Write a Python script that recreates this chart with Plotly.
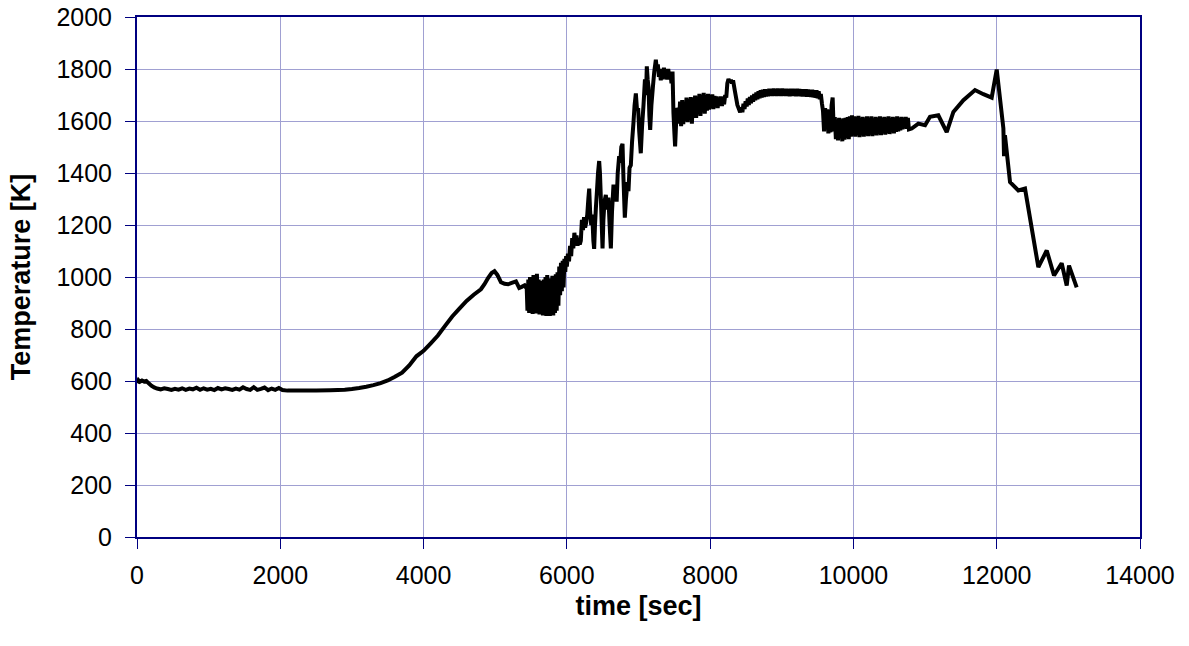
import plotly.graph_objects as go

# ---- data (time [sec], temperature [K]) ----
time_start = [0, 20, 40, 70, 100, 130, 160, 200, 240, 280, 330, 380, 430, 480, 530, 580, 630, 680,
              730, 780, 830, 880, 930, 980, 1030, 1080, 1130, 1180, 1230, 1280, 1330, 1380, 1430,
              1480, 1530, 1580, 1630, 1680, 1730, 1780, 1830, 1880, 1930, 1980, 2030, 2100, 2300,
              2500, 2700, 2900, 3000, 3100, 3200, 3300, 3400, 3500, 3600]
temp_start = [592, 603, 597, 602, 598, 600, 592, 582, 575, 571, 568, 572, 569, 566, 570, 567, 572, 566,
              571, 568, 574, 566, 572, 567, 570, 565, 573, 568, 572, 569, 566, 571, 567, 576,
              569, 566, 576, 566, 570, 575, 565, 571, 566, 573, 565, 563, 563, 563, 564, 566,
              569, 573, 578, 584, 592, 602, 616]

time_rise = [3700, 3800, 3900, 4000, 4100, 4200, 4300, 4400, 4500, 4600, 4700, 4800, 4850, 4900,
             4950, 4990, 5030, 5080, 5130, 5180, 5230, 5290, 5335, 5370, 5410, 5440]
temp_rise = [632, 660, 695, 716, 745, 775, 812, 848, 878, 908, 932, 953, 972, 996,
             1015, 1022, 1008, 980, 974, 972, 977, 983, 958, 962, 968, 955]

time_noise1 = [5450, 5462, 5474, 5486, 5498, 5510, 5522, 5534, 5546, 5558, 5570, 5582, 5594, 5606,
               5618, 5630, 5642, 5654, 5666, 5678, 5690, 5702, 5714, 5726, 5738, 5750, 5762, 5774,
               5786, 5798, 5810, 5822, 5834, 5846, 5858, 5870, 5882, 5894, 5906, 5918, 5930, 5942,
               5954, 5966, 5978, 5990]
temp_noise1 = [870, 990, 862, 1000, 868, 985, 858, 1008, 870, 995, 860, 1012, 872, 990,
               856, 985, 866, 975, 852, 990, 860, 1000, 850, 1008, 858, 985, 850, 995,
               856, 1005, 852, 990, 862, 1010, 870, 1018, 890, 1040, 930, 1055, 945, 1062,
               960, 1070, 1020, 1080]

time_climb = [6000, 6015, 6030, 6045, 6060, 6075, 6090, 6105, 6120, 6135, 6150, 6165, 6180, 6195,
              6210, 6225, 6240, 6255, 6270, 6285, 6300, 6312, 6325, 6340, 6355, 6370, 6381, 6393,
              6405, 6420, 6435, 6451, 6462, 6475, 6487, 6498, 6510, 6525, 6544, 6560, 6580, 6597,
              6614, 6630, 6651, 6665, 6680, 6695, 6710, 6730, 6745, 6760, 6777, 6790, 6809, 6825,
              6846, 6860, 6875, 6893, 6910, 6930, 6945, 6963, 6980, 6995, 7010, 7032, 7050, 7070,
              7090, 7105, 7116, 7128, 7140, 7152, 7163, 7180, 7200, 7220, 7242, 7255, 7270, 7285,
              7300, 7311, 7325, 7340, 7355, 7370, 7385, 7400, 7415, 7430, 7445, 7460, 7475, 7488,
              7500, 7511, 7523, 7535]
temp_climb = [1040, 1090, 1060, 1120, 1080, 1150, 1110, 1170, 1130, 1160, 1120, 1150, 1125, 1140,
              1220, 1180, 1230, 1190, 1210, 1240, 1300, 1340, 1250, 1200, 1240, 1140, 1108, 1200,
              1265, 1330, 1400, 1446, 1400, 1300, 1200, 1110, 1220, 1290, 1316, 1260, 1305, 1200,
              1110, 1250, 1355, 1300, 1330, 1290, 1400, 1465, 1440, 1500, 1512, 1380, 1228, 1300,
              1365, 1330, 1420, 1430, 1520, 1595, 1660, 1706, 1640, 1650, 1560, 1476, 1580, 1662,
              1760, 1700, 1810, 1760, 1730, 1620, 1566, 1660, 1728, 1790, 1836, 1800, 1818, 1770,
              1790, 1756, 1800, 1760, 1805, 1770, 1795, 1760, 1800, 1768, 1790, 1745, 1790, 1630,
              1560, 1502, 1580, 1650]

time_band1 = [7550, 7565, 7580, 7595, 7610, 7625, 7640, 7655, 7670, 7685, 7700, 7715, 7730, 7745,
              7760, 7775, 7790, 7805, 7820, 7835, 7850, 7865, 7880, 7895, 7910, 7925, 7940, 7955,
              7970, 7985, 8000, 8015, 8030, 8045, 8060, 8075, 8090, 8105, 8120, 8135, 8150, 8165,
              8180, 8195, 8210, 8225, 8240, 8256, 8275, 8290, 8305, 8320, 8345, 8380, 8419]
temp_band1 = [1640, 1590, 1675, 1580, 1680, 1588, 1672, 1600, 1690, 1596, 1684, 1610, 1692, 1590,
              1688, 1620, 1698, 1612, 1694, 1628, 1704, 1620, 1700, 1636, 1708, 1628, 1700, 1640,
              1704, 1644, 1700, 1650, 1702, 1646, 1696, 1654, 1694, 1650, 1690, 1660, 1694, 1658,
              1690, 1664, 1700, 1690, 1745, 1762, 1748, 1758, 1745, 1756, 1716, 1662, 1634]

time_plateau = [8435, 8450, 8465, 8480, 8495, 8510, 8525, 8540, 8555, 8570, 8585, 8600, 8615, 8630,
                8645, 8660, 8675, 8690, 8705, 8720, 8735, 8750, 8765, 8780, 8795, 8810, 8825, 8840,
                8855, 8870, 8885, 8900, 8915, 8930, 8945, 8960, 8975, 8990, 9005, 9020, 9035, 9050,
                9065, 9080, 9095, 9110, 9125, 9140, 9155, 9170, 9185, 9200, 9215, 9230, 9245, 9260,
                9275, 9290, 9305, 9320, 9335, 9350, 9365, 9380, 9395, 9410, 9425, 9440, 9455, 9470,
                9485, 9500, 9515, 9530, 9545, 9560, 9575]
temp_plateau = [1652, 1634, 1666, 1646, 1676, 1656, 1686, 1662, 1692, 1668, 1698, 1674, 1704, 1680,
                1710, 1684, 1714, 1688, 1718, 1690, 1720, 1692, 1722, 1694, 1721, 1695, 1724, 1697,
                1723, 1696, 1725, 1697, 1723, 1696, 1725, 1697, 1723, 1696, 1725, 1697, 1724, 1696,
                1724, 1696, 1723, 1695, 1724, 1696, 1724, 1696, 1723, 1695, 1724, 1696, 1723, 1695,
                1722, 1694, 1722, 1694, 1722, 1693, 1721, 1693, 1720, 1692, 1720, 1691, 1718, 1690,
                1718, 1688, 1714, 1684, 1704, 1668, 1640]

time_band2 = [9590, 9605, 9620, 9635, 9650, 9665, 9680, 9695, 9710, 9725, 9740, 9755, 9770, 9785,
              9800, 9815, 9830, 9845, 9860, 9875, 9890, 9905, 9920, 9935, 9950, 9965, 9980, 9995,
              10010, 10025, 10040, 10055, 10070, 10085, 10100, 10115, 10130, 10145, 10160, 10175,
              10190, 10205, 10220, 10235, 10250, 10265, 10280, 10295, 10310, 10325, 10340, 10355,
              10370, 10385, 10400, 10415, 10430, 10445, 10460, 10475, 10490, 10505, 10520, 10535,
              10550, 10565, 10580, 10595, 10610, 10625, 10640, 10655, 10670, 10685, 10700, 10715,
              10730, 10745, 10760, 10775]
temp_band2 = [1560, 1650, 1570, 1645, 1552, 1640, 1556, 1660, 1690, 1560, 1615, 1530, 1605, 1525,
              1612, 1535, 1606, 1522, 1610, 1528, 1612, 1535, 1615, 1530, 1618, 1540, 1622, 1545,
              1618, 1540, 1615, 1546, 1620, 1538, 1612, 1545, 1616, 1540, 1610, 1546,
              1618, 1542, 1612, 1548, 1618, 1542, 1610, 1548, 1616, 1545, 1612, 1550,
              1618, 1546, 1610, 1552, 1616, 1548, 1612, 1554, 1618, 1550, 1610, 1556,
              1616, 1552, 1612, 1558, 1618, 1560, 1610, 1564, 1616, 1568, 1612, 1572,
              1616, 1570, 1612, 1568]

time_end = [10814, 10906, 11000, 11069, 11185, 11302, 11395, 11535, 11697, 11814, 11930, 12000,
            12093, 12102, 12115, 12186, 12302, 12395, 12581, 12698, 12800, 12907, 12977, 13009, 13116]
temp_end = [1571, 1590, 1584, 1616, 1622, 1557, 1635, 1680, 1719, 1703, 1690, 1798,
            1572, 1465, 1545, 1365, 1333, 1340, 1038, 1102, 1006, 1053, 967, 1044, 960]

time_s = (time_start + time_rise + time_noise1 + time_climb + time_band1 + time_plateau
          + time_band2 + time_end)
temp_k = (temp_start + temp_rise + temp_noise1 + temp_climb + temp_band1 + temp_plateau
          + temp_band2 + temp_end)

x_ticks = [0, 2000, 4000, 6000, 8000, 10000, 12000, 14000]
y_ticks = [0, 200, 400, 600, 800, 1000, 1200, 1400, 1600, 1800, 2000]

NAVY = "#000080"
GRID = "#A0A0D2"
FONT = "Liberation Sans, Arial, sans-serif"
TICK_SIZE = 25
TITLE_SIZE = 27

fig = go.Figure()
fig.add_trace(go.Scatter(x=time_s, y=temp_k, mode="lines",
                         line=dict(color="black", width=4, simplify=False),
                         showlegend=False, hoverinfo="skip"))

fig.update_layout(
    width=1189, height=646,
    margin=dict(l=137, r=49, t=17, b=109),
    paper_bgcolor="white", plot_bgcolor="white",
    font=dict(family=FONT, size=TICK_SIZE, color="black"),
)
fig.update_xaxes(
    range=[0, 14000], tickvals=x_ticks, ticktext=[str(v) for v in x_ticks],
    showgrid=True, gridcolor=GRID, gridwidth=1,
    showline=True, linecolor=NAVY, linewidth=2, mirror=True,
    ticks="outside", ticklen=10, tickcolor=NAVY, tickwidth=1,
    zeroline=False, ticklabelstandoff=5, automargin=False,
    tickfont=dict(family=FONT, size=TICK_SIZE, color="black"),
    title=dict(text="<b>time [sec]</b>", font=dict(family=FONT, size=TITLE_SIZE, color="black"),
               standoff=8),
)
fig.update_yaxes(
    range=[0, 2000], tickvals=y_ticks, ticktext=[str(v) for v in y_ticks],
    showgrid=True, gridcolor=GRID, gridwidth=1,
    showline=True, linecolor=NAVY, linewidth=2, mirror=True,
    ticks="outside", ticklen=10, tickcolor=NAVY, tickwidth=1,
    zeroline=False, ticklabelstandoff=8, automargin=False,
    tickfont=dict(family=FONT, size=TICK_SIZE, color="black"),
    title=dict(text="<b>Temperature [K]</b>", font=dict(family=FONT, size=TITLE_SIZE, color="black"),
               standoff=18),
)

fig.write_html("out.html")
